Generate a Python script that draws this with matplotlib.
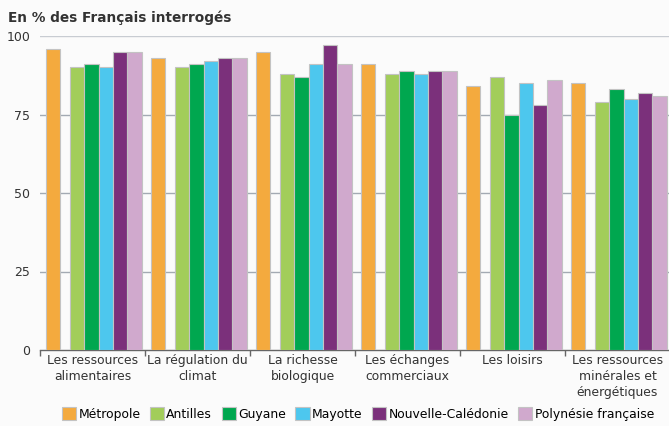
import matplotlib

matplotlib.use("Agg")
import matplotlib.pyplot as plt
import numpy as np

categories = [
    "Les ressources\nalimentaires",
    "La régulation du\nclimat",
    "La richesse\nbiologique",
    "Les échanges\ncommerciaux",
    "Les loisirs",
    "Les ressources\nminérales et\nénergétiques",
]
regions = ["Métropole", "Antilles", "Guyane", "Mayotte",
           "Nouvelle-Calédonie", "Polynésie française"]
colors = ["#f4aa3e", "#a2cd5a", "#00a74f", "#4dc7ee", "#7b307b", "#d0a9cd"]

metropole = [96, 93, 95, 91, 84, 85]
antilles = [90, 90, 88, 88, 87, 79]
guyane = [91, 91, 87, 89, 75, 83]
mayotte = [90, 92, 91, 88, 85, 80]
nouvelle_caledonie = [95, 93, 97, 89, 78, 82]
polynesie = [95, 93, 91, 89, 86, 81]
series = [metropole, antilles, guyane, mayotte, nouvelle_caledonie, polynesie]

yticks = [0, 25, 50, 75, 100]

plt.rcParams["font.family"] = "DejaVu Sans"
BG = "#fbfbfb"
TXT = "#333333"

fig = plt.figure(figsize=(6.69, 4.26), dpi=100, facecolor=BG)
ax = fig.add_axes([40 / 669, 1 - 350 / 426, 630 / 669, 314 / 426])
ax.set_facecolor(BG)

x = np.arange(len(categories))
w = 0.1365
# Métropole stands apart, the overseas territories are grouped after a gap
offsets = [0.057] + [0.286 + k * w for k in range(5)]
for vals, off, col, lab in zip(series, offsets, colors, regions):
    ax.bar(x + off, vals, width=w, align="edge", color=col,
           edgecolor="#c3c3c3", linewidth=0.8, label=lab, zorder=3)

ax.set_xlim(0, len(categories))
ax.set_ylim(0, 100)
ax.set_yticks(yticks)
ax.set_yticklabels([str(t) for t in yticks], fontsize=9, color=TXT)
ax.tick_params(axis="y", length=0, pad=7)
for t in yticks[1:]:
    ax.axhline(t, color="#c8ccd2" if t == 100 else "#a3aab3",
               linewidth=1.0, zorder=1)

ax.set_xticks(x + 0.5)
ax.set_xticklabels(categories, fontsize=8.9, color=TXT, linespacing=1.3)
ax.set_xticks(np.arange(len(categories) + 1), minor=True)
ax.tick_params(axis="x", which="major", length=0, pad=3)
ax.tick_params(axis="x", which="minor", length=4, color="#666666", width=1)

for s in ["top", "right", "left"]:
    ax.spines[s].set_visible(False)
ax.spines["bottom"].set_color("#666666")
ax.spines["bottom"].set_linewidth(1)

fig.text(8 / 669, 1 - 18 / 426, "En % des Français interrogés",
         fontsize=9.8, fontweight="bold", color=TXT, va="center")

fig.legend(loc="center", bbox_to_anchor=(0.535, 1 - 414 / 426),
           ncol=6, frameon=False, fontsize=8.9, handlelength=1.15,
           handleheight=1.15, handletextpad=0.2, columnspacing=0.75,
           borderaxespad=0)

fig.savefig("out.png", dpi=100, facecolor=BG)
